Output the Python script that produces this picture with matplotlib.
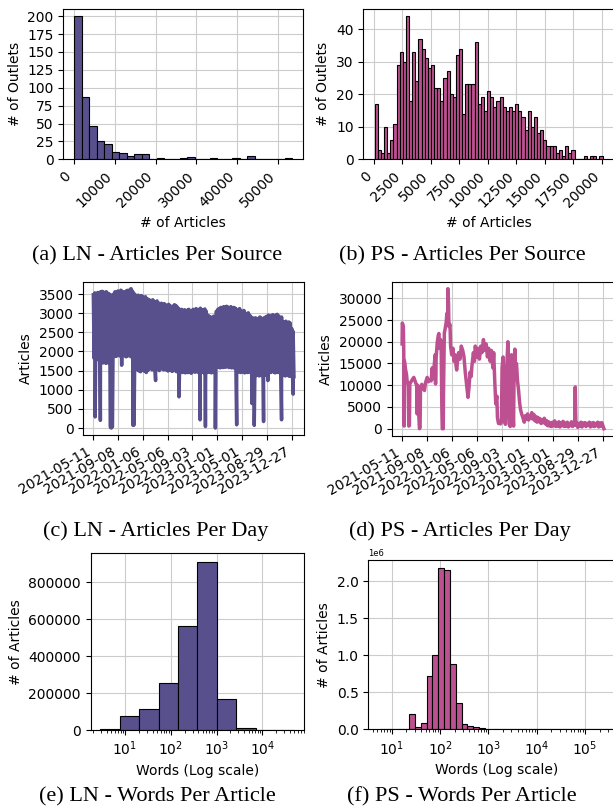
import matplotlib.pyplot as plt
import numpy as np

LN_COLOR = '#58508d'
PS_COLOR = '#bc5090'
W, H = 613, 811

# (a) LN - articles per source (histogram counts, 29 equal bins)
ln_src_range = (160, 53400)
ln_src_counts = [200, 87, 47, 25, 21, 10, 9, 5, 7, 7,
                 0, 2, 1, 0, 2, 3, 1, 0, 2, 1,
                 0, 2, 0, 4, 0, 1, 0, 0, 2]

# (b) PS - articles per source (73 equal bins)
ps_src_range = (60, 20062)
ps_src_counts = [17, 3, 2, 10, 2, 6, 11, 29, 33, 30,
                 44, 18, 33, 24, 37, 34, 31, 28, 29, 22,
                 22, 18, 25, 27, 20, 19, 32, 34, 14, 23,
                 23, 23, 36, 17, 19, 15, 21, 19, 16, 18,
                 19, 16, 15, 16, 15, 17, 15, 13, 9, 15,
                 10, 13, 8, 9, 6, 4, 4, 4, 2, 3,
                 1, 4, 2, 3, 0, 0, 0, 1, 0, 1,
                 1, 0, 1]

# (c) LN - articles per day: weekly highs / weekend lows, plus outage days
ln_week_hi = [3480, 3530, 3510, 3540, 3520, 3560, 3570, 3550, 3540, 3560, 3520, 3500,
              3480, 3450,
              3500, 3560, 3540, 3580, 3560, 3600, 3570, 3540, 3560, 3590, 3600, 3570, 3640, 3580, 3520,
              3480, 3450, 3470, 3420, 3460, 3440, 3400, 3430, 3380, 3360,
              3340, 3300, 3350, 3310, 3280, 3320, 3270,
              3240, 3260, 3210, 3250, 3220, 3190, 3230, 3200, 3170,
              3180, 3220, 3200, 3160, 3120,
              3080, 3100, 3060, 3090, 3050, 3080, 3100, 3040, 3070,
              3100, 3080, 3120, 3060, 3100, 3130, 3070, 3090, 3110,
              3050, 2950, 2920, 2900, 2880, 2920, 2890,
              3050, 3100, 3120, 3150, 3130, 3170, 3150, 3180, 3160, 3140, 3170, 3120, 3150,
              3130, 3100, 3080, 3120, 3060, 3040, 3070, 3000, 2980, 3010, 2950, 2900, 2880,
              2850, 2880, 2820, 2860, 2900, 2870, 2840, 2880, 2900,
              2920, 2950, 2900, 2940, 2960, 2920, 2950, 2970, 2930, 2880, 2900,
              2780, 2760, 2790, 2750, 2770, 2740, 2600, 2520]
ln_week_lo = [1820, 1790, 1810, 1780, 1760,
              1720, 1700, 1740, 1690, 1710, 1700, 1680, 1720,
              1880, 1900, 1870, 1890, 1910, 1880, 1640, 1900, 1890, 1860, 1880, 1900, 1870, 1850, 1880, 1860, 1640,
              1520, 1490, 1470, 1600, 1500, 1480, 1450, 1500,
              1540, 1560, 1520, 1550, 1530, 1570, 1540, 1500, 1560, 1540, 1520, 1550,
              1510, 1490, 1520, 1500, 1480, 1510, 1500, 1470, 1490, 1510,
              1460, 1450, 1480, 1440, 1470, 1450, 1460, 1430, 1470,
              1470, 1460, 1490, 1450, 1480, 1460, 1470, 1440, 1480, 1450, 1470, 1460, 1440, 1470, 1450, 1460,
              1590, 1600, 1570, 1610, 1580, 1600, 1590, 1620, 1580, 1600, 1570, 1590, 1560,
              1470, 1460, 1480, 1450, 1470, 1460, 1440, 1470, 1450, 1460, 1480, 1440, 1460,
              1380, 1370, 1390, 1360, 1380, 1370, 1350, 1380, 1400,
              1240, 1470, 1450, 1480, 1460, 1440, 1470, 1450, 1460,
              1380, 1370, 1390, 1360, 1380, 1370, 1350, 1380, 1360, 1340]
ln_dip_days = [10, 35, 84, 88, 93, 193, 198, 302, 415, 517, 543, 591, 694, 768, 779, 824, 911, 967]
ln_dip_vals = [290, 200, 20, 0, 30, 70, 80, 1240, 815, 215, 40, 0, 85, 640, 70, 170, 215, 885]

# (d) PS - articles per day (day offset, articles)
ps_daily = [(0, 19500), (1, 24300), (3, 24000), (6, 23600), (8, 18000), (10, 600), (11, 15600),
            (16, 13800), (21, 12500), (24, 11000), (29, 10000), (32, 600), (35, 700), (37, 10500),
            (43, 10800), (50, 11400), (56, 11800), (62, 11000), (67, 10300), (70, 9800), (72, 3400),
            (75, 10000), (80, 3000), (83, 0), (86, 300), (88, 9000), (94, 10200), (101, 9200),
            (107, 8800), (112, 10600), (120, 11800), (126, 10800), (133, 11300), (139, 11000),
            (144, 14000), (149, 11500), (154, 14800), (158, 17000), (160, 10300), (163, 16500),
            (168, 19800), (173, 21500), (176, 21900), (179, 18500), (184, 20500), (187, 18000),
            (190, 5000), (192, 0), (197, 0), (198, 8000), (202, 22000), (206, 23000), (211, 24500),
            (214, 26500), (218, 25500), (219, 32200), (222, 29000), (224, 23500), (229, 24000),
            (232, 19000), (237, 17000), (243, 18500), (248, 15500), (253, 17000), (258, 14500),
            (261, 13500), (266, 16000), (270, 17500), (277, 16000), (283, 19000), (290, 18000),
            (296, 16500), (302, 13000), (309, 10000), (315, 7200), (320, 9500), (325, 13000),
            (330, 12000), (334, 14500), (341, 17500), (346, 15500), (350, 19000), (357, 16500),
            (363, 18500), (370, 16000), (376, 19000), (382, 17500), (389, 20500), (395, 18000),
            (402, 19500), (408, 16500), (414, 18500), (421, 15500), (427, 18000), (434, 14000),
            (438, 17500), (443, 11000), (448, 5700), (453, 7500), (456, 2500), (461, 1200),
            (466, 1300), (470, 1100), (475, 1500), (478, 14000), (483, 16500), (486, 13000),
            (490, 2000), (494, 1000), (499, 8000), (502, 16000), (506, 20000), (509, 15000),
            (512, 1000), (517, 500), (520, 16000), (523, 17000), (526, 12000), (530, 4000),
            (533, 600), (536, 15000), (539, 18300), (542, 14000), (547, 15000), (552, 11000),
            (557, 8800), (562, 6000), (566, 4500), (571, 3500), (578, 2500), (584, 1500),
            (590, 3000), (595, 2200), (600, 3400), (605, 2000), (610, 3000), (615, 2500),
            (620, 3700), (625, 2200), (630, 3300), (635, 1800), (640, 2800), (645, 1500),
            (650, 2600), (655, 1600), (660, 2300), (665, 1200), (670, 2000), (675, 1400),
            (680, 2400), (685, 1100), (690, 1900), (695, 700), (700, 1600), (705, 600),
            (710, 1400), (715, 500), (720, 1500), (725, 700), (730, 1800), (735, 500),
            (740, 1300), (745, 600), (750, 1600), (755, 400), (760, 1400), (765, 700),
            (770, 1700), (775, 500), (780, 1300), (785, 600), (790, 1500), (795, 400),
            (800, 1200), (805, 700), (810, 1600), (815, 500), (820, 1300), (825, 900),
            (828, 9600), (831, 800), (835, 1400), (840, 300), (845, 1200), (850, 600),
            (855, 1500), (860, 400), (865, 1300), (870, 700), (875, 1400), (880, 500),
            (885, 1200), (890, 800), (895, 1500), (900, 400), (905, 1300), (910, 600),
            (915, 1400), (920, 500), (925, 1200), (930, 700), (935, 1500), (940, 400),
            (945, 1300), (950, 600), (955, 1400), (960, 700), (965, 0)]

date_tick_days = [0, 120, 240, 360, 480, 600, 720, 840, 960]
date_tick_labels = ['2021-05-11', '2021-09-08', '2022-01-06', '2022-05-06', '2022-09-03',
                    '2023-01-01', '2023-05-01', '2023-08-29', '2023-12-27']

# (e) LN - words per article (10 log bins)
ln_words_range = (2.9, 49900)
ln_words_counts = [5000, 77700, 115000, 253000, 563000, 912000, 168000, 12600, 1000, 100]

# (f) PS - words per article (40 log bins)
ps_words_range = (5.7, 384000)
ps_words_counts = [0, 0, 0, 0, 0, 213000, 30000, 90000, 715000, 1000000,
                   2180000, 2150000, 880000, 350000, 75000, 45000, 28000, 16000, 8000, 4000,
                   2000, 1000, 500, 300, 200, 100, 50, 0, 0, 0,
                   0, 0, 0, 0, 0, 0, 0, 0, 0, 0]

captions = ['(a) LN - Articles Per Source', '(b) PS - Articles Per Source',
            '(c) LN - Articles Per Day', '(d) PS - Articles Per Day',
            '(e) LN - Words Per Article', '(f) PS - Words Per Article']


def px_rect(l, t, r, b):
    return [l / W, 1 - b / H, (r - l) / W, (b - t) / H]


def hist_bars(ax, edges, counts, color):
    edges = np.asarray(edges)
    ax.bar(edges[:-1], counts, width=np.diff(edges), align='edge',
           color=color, edgecolor='black', linewidth=0.8)


plt.rcParams['font.size'] = 10
plt.rcParams['grid.color'] = '#cccccc'
fig = plt.figure(figsize=(W / 100, H / 100), dpi=100)

# (a)
ax = fig.add_axes(px_rect(63.3, 9, 303.3, 159.3))
hist_bars(ax, np.linspace(*ln_src_range, len(ln_src_counts) + 1), ln_src_counts, LN_COLOR)
ax.set_xticks([0, 10000, 20000, 30000, 40000, 50000])
ax.set_yticks(np.arange(0, 201, 25))
plt.setp(ax.get_xticklabels(), rotation=45, ha='right')
ax.set_xlabel('# of Articles')
ax.set_ylabel('# of Outlets')
ax.grid(True)
ax.set_axisbelow(True)

# (b)
ax = fig.add_axes(px_rect(363.3, 9, 614, 159.3))
hist_bars(ax, np.linspace(*ps_src_range, len(ps_src_counts) + 1), ps_src_counts, PS_COLOR)
ax.set_xticks(np.arange(0, 20001, 2500))
plt.setp(ax.get_xticklabels(), rotation=45, ha='right')
ax.set_xlabel('# of Articles')
ax.set_ylabel('# of Outlets')
ax.grid(True)
ax.set_axisbelow(True)

# (c)
pts = []
for k in range(len(ln_week_hi)):
    pts.append((7 * k + 1, ln_week_hi[k]))
    pts.append((7 * k + 5, ln_week_lo[k]))
pts += list(zip(ln_dip_days, ln_dip_vals))
pts.sort()
ax = fig.add_axes(px_rect(83.3, 281.7, 304, 435))
ax.plot([p[0] for p in pts], [p[1] for p in pts], color=LN_COLOR, lw=2.5)
ax.set_xticks(date_tick_days)
ax.set_xticklabels(date_tick_labels, rotation=30, ha='right')
ax.set_yticks(np.arange(0, 3501, 500))
ax.set_ylabel('Articles')
ax.grid(True)

# (d)
ax = fig.add_axes(px_rect(392, 281.7, 614, 435.7))
ax.plot([p[0] for p in ps_daily], [p[1] for p in ps_daily], color=PS_COLOR, lw=2.5)
ax.set_xticks(date_tick_days)
ax.set_xticklabels(date_tick_labels, rotation=30, ha='right')
ax.set_yticks(np.arange(0, 30001, 5000))
ax.set_ylabel('Articles')
ax.grid(True)

# (e)
ax = fig.add_axes(px_rect(90.7, 553.3, 304, 730))
ax.set_xscale('log')
hist_bars(ax, np.logspace(*np.log10(ln_words_range), len(ln_words_counts) + 1),
          ln_words_counts, LN_COLOR)
ax.set_xlabel('Words (Log scale)')
ax.set_ylabel('# of Articles')
ax.grid(True)
ax.set_axisbelow(True)

# (f)
ax = fig.add_axes(px_rect(368.3, 560, 625, 729.3))
ax.set_xscale('log')
hist_bars(ax, np.logspace(*np.log10(ps_words_range), len(ps_words_counts) + 1),
          ps_words_counts, PS_COLOR)
ax.set_xlabel('Words (Log scale)')
ax.set_ylabel('# of Articles')
ax.yaxis.get_offset_text().set_fontsize(6)
ax.grid(True)
ax.set_axisbelow(True)

cap_pos = [(157, 256), (462, 256), (156, 531), (460, 531), (157, 797), (462, 797)]
for (cx, cy), txt in zip(cap_pos, captions):
    fig.text(cx / W, 1 - cy / H, txt, ha='center', va='center',
             fontsize=16, family='Liberation Serif')

fig.savefig('out.png', dpi=100)
